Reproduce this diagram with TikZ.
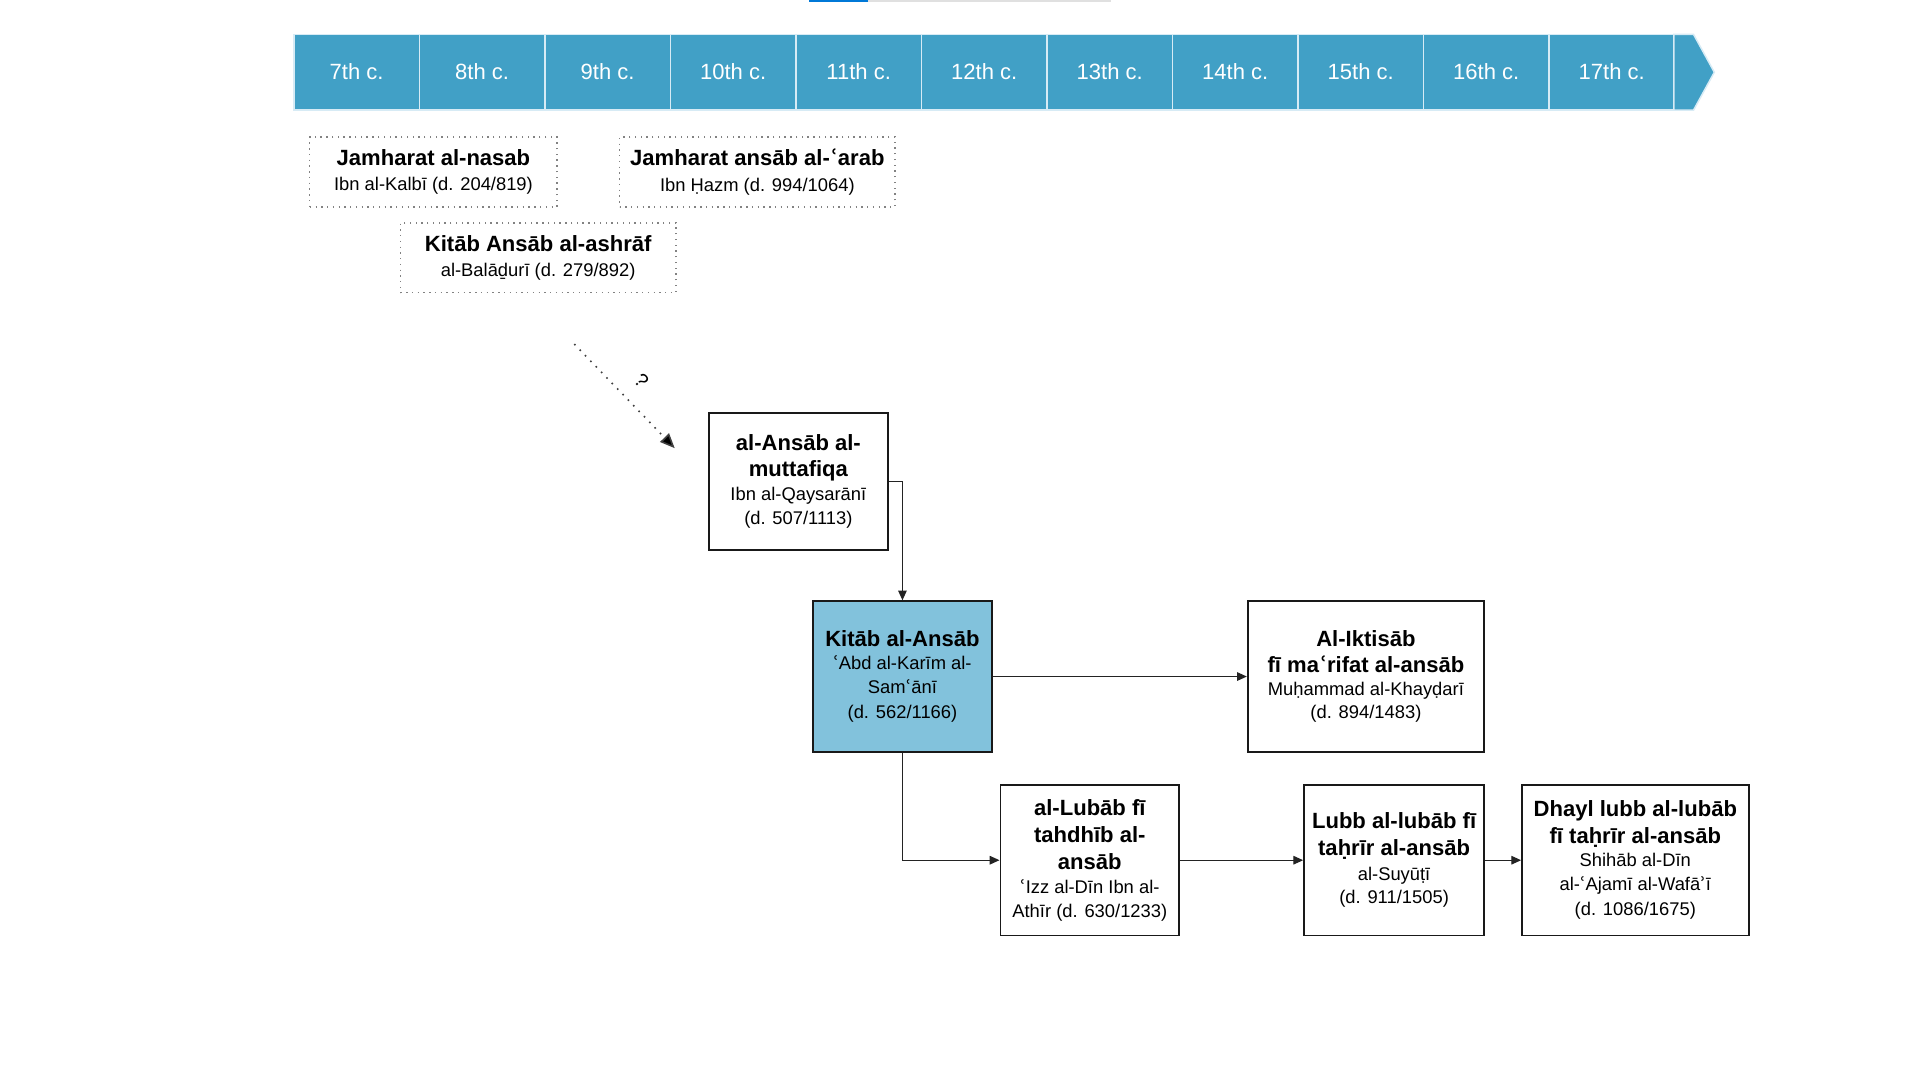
\documentclass[tikz,border=0pt]{standalone}
\usepackage{fontspec}
\setmainfont{Liberation Sans}
\newfontfamily\dvfont{DejaVu Sans}
\usetikzlibrary{arrows.meta}
\newcommand{\ayn}{{\dvfont ʿ}}
\newcommand{\hmz}{{\dvfont ʾ}}
\newcommand{\tb}{\fontsize{18}{21}\selectfont\bfseries}
\newcommand{\sbt}{\fontsize{15}{19}\selectfont\mdseries}
\definecolor{tl}{RGB}{65,160,198}
\definecolor{tlline}{RGB}{215,235,245}
\definecolor{kfill}{RGB}{130,194,220}
\definecolor{conncol}{RGB}{35,35,35}
\definecolor{dotcol}{RGB}{130,130,130}
\definecolor{barblue}{RGB}{0,120,215}
\begin{document}
\begin{tikzpicture}[x=1pt,y=-1pt,
  seg/.style={draw=tlline, line width=1.2pt, fill=tl, minimum width=102.5, minimum height=62, inner sep=0pt, text=white, font=\fontsize{18}{20}\selectfont},
  dbox/.style={draw=dotcol, line width=1.1pt, dash pattern=on 1.1pt off 3.6pt, minimum height=57, align=center, inner sep=0pt, font=\fontsize{15}{20.5}\selectfont},
  wbox/.style={draw=black!90, line width=1.5pt, fill=white, align=center, inner sep=0pt, font=\fontsize{15}{19}\selectfont},
  conn/.style={draw=conncol, line width=1pt, -{Triangle[length=8pt,width=7pt]}}
]
\useasboundingbox (0,0) rectangle (1568,882);
\fill[white] (0,0) rectangle (1568,882);
% top bar artifact
\fill[barblue] (661,0) rectangle (709,1.6);
\fill[black!12] (709,0) rectangle (907,1.6);
% timeline
\foreach \i/\lab in {0/7th,1/8th,2/9th,3/10th,4/11th,5/12th,6/13th,7/14th,8/15th,9/16th,10/17th}
  \node[seg] (c\i) at ({240+102.5*\i+51.25},59) {\raisebox{2pt}{\lab\ c.}};
\path[fill=tl, draw=tlline, line width=1.2pt] (1367,28) -- (1383,28) -- (1400,59) -- (1383,90) -- (1367,90) -- cycle;
% dotted boxes
\node[dbox, minimum width=202] (b1) at (354,140.5) {\tb Jamharat al-nasab\\\sbt Ibn al-Kalbī (d. 204/819)};
\node[dbox, minimum width=225] (b2) at (618.5,140.5) {\tb Jamharat ansāb al-\ayn arab\\[1pt]\sbt Ibn Ḥazm (d. 994/1064)};
\node[dbox, minimum width=225] (b3) at (439.5,210.5) {\tb Kitāb Ansāb al-ashrāf\\\sbt al-Balāḏurī (d. 279/892)};
% main boxes
\node[wbox, minimum width=146, minimum height=112] (M) at (652,393) {\tb al-Ansāb al-\\[2pt]\tb muttafiqa\\[1pt]\sbt Ibn al-Qaysarānī\\\sbt (d. 507/1113)};
\node[wbox, fill=kfill, minimum width=146, minimum height=123] (K) at (737,552.5) {\tb Kitāb al-Ansāb\\\sbt \ayn Abd al-Karīm al-\\\sbt Sam\ayn ānī\\[2pt]\sbt (d. 562/1166)};
\node[wbox, minimum width=193, minimum height=123] (I) at (1115.5,552.5) {\tb Al-Iktisāb\\[2pt]\tb fī ma\ayn rifat al-ansāb\\\sbt Muḥammad al-Khayḍarī\\\sbt (d. 894/1483)};
\node[wbox, minimum width=146, minimum height=123] (L) at (890,702.5) {\tb al-Lubāb fī\\[3pt]\tb tahdhīb al-\\[3pt]\tb ansāb\\[1pt]\sbt \ayn Izz al-Dīn Ibn al-\\\sbt Athīr (d. 630/1233)};
\node[wbox, minimum width=147, minimum height=123] (LL) at (1138.5,702.5) {\tb Lubb al-lubāb fī\\[3pt]\tb taḥrīr al-ansāb\\[1pt]\sbt al-Suyūṭī\\\sbt (d. 911/1505)};
\node[wbox, minimum width=185, minimum height=123] (D) at (1335.5,702.5) {\tb Dhayl lubb al-lubāb\\[3pt]\tb fī taḥrīr al-ansāb\\\sbt Shihāb al-Dīn\\\sbt al-\ayn Ajamī al-Wafā\hmz ī\\[2pt]\sbt (d. 1086/1675)};
% connectors
\draw[conn] (M.east) -| (K.north);
\draw[conn] (K.east) -- (I.west);
\draw[conn] (K.south) |- (L.west);
\draw[conn] (L.east) -- (LL.west);
\draw[conn] (LL.east) -- (D.west);
% dotted question arrow
\coordinate (qs) at (469,281);
\coordinate (qe) at (551,366);
\draw[draw=black!75, line width=1.3pt, dash pattern=on 1.3pt off 5pt, -{Triangle[length=12pt,width=10pt,fill=black]}] (qs) -- (qe);
\node[rotate=-46, font=\fontsize{16}{16}\selectfont, inner sep=0pt] (q) at (524,311) {?};
\end{tikzpicture}
\end{document}
